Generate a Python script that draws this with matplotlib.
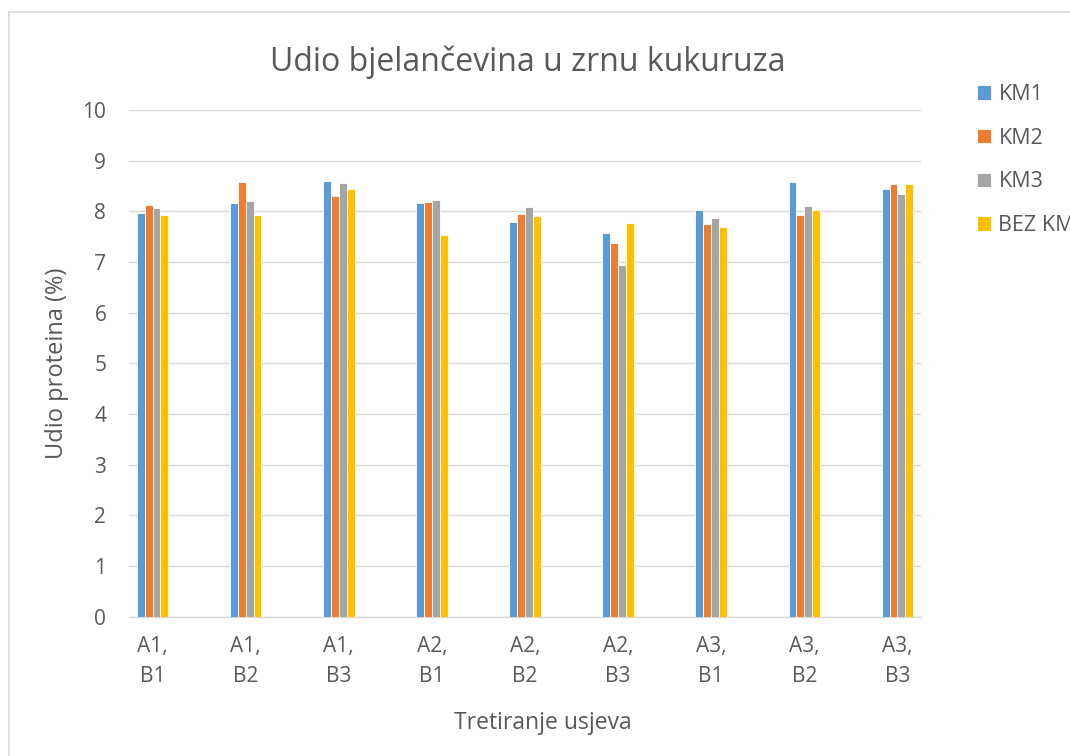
import numpy as np
import matplotlib
matplotlib.use("Agg")
import matplotlib.pyplot as plt
from matplotlib.lines import Line2D

plt.rcParams['font.family'] = ['Open Sans', 'DejaVu Sans']

# data
categories = ["A1,\nB1", "A1,\nB2", "A1,\nB3", "A2,\nB1", "A2,\nB2",
              "A2,\nB3", "A3,\nB1", "A3,\nB2", "A3,\nB3"]
km1 = [7.97, 8.17, 8.60, 8.17, 7.78, 7.57, 8.03, 8.57, 8.45]
km2 = [8.13, 8.57, 8.30, 8.18, 7.95, 7.38, 7.75, 7.93, 8.53]
km3 = [8.06, 8.20, 8.55, 8.22, 8.08, 6.94, 7.86, 8.10, 8.35]
bez_km = [7.93, 7.93, 8.45, 7.53, 7.90, 7.77, 7.69, 8.02, 8.53]
series_names = ["KM1", "KM2", "KM3", "BEZ KM"]
colors = ["#5B9BD5", "#ED7D31", "#A5A5A5", "#FFC000"]
text_col = "#595959"
grid_col = "#D9D9D9"

fig = plt.figure(figsize=(10.7, 7.56), dpi=100)
ax = fig.add_axes([0.1208, 0.1843, 0.7397, 0.6702])

x = np.arange(len(categories))
w = 0.085
for i, (vals, name, c) in enumerate(zip([km1, km2, km3, bez_km], series_names, colors)):
    ax.bar(x + (i - 1.5) * w, vals, width=w, color=c, edgecolor="white",
           linewidth=0.6, label=name, zorder=3)

ax.set_xlim(-0.25, 8.25)
ax.set_ylim(0, 10)
ax.set_yticks(range(0, 11))
ax.set_xticks(x)
ax.set_xticklabels(categories, linespacing=1.55)
ax.grid(axis="y", color=grid_col, linewidth=1.0, zorder=0)
for s in ["top", "right", "left"]:
    ax.spines[s].set_visible(False)
ax.spines["bottom"].set_color(grid_col)
ax.spines["bottom"].set_linewidth(1.0)
ax.tick_params(axis="both", length=0, labelsize=15, colors=text_col)
ax.tick_params(axis="x", pad=14)
ax.tick_params(axis="y", pad=16.5)

ax.set_ylabel("Udio proteina (%)", fontsize=17, color=text_col, labelpad=10)
fig.text(0.4935, 0.918, "Udio bjelančevina u zrnu kukuruza", ha="center",
         va="center", fontsize=23, color=text_col)
fig.text(0.5075, 0.044, "Tretiranje usjeva", ha="center", va="center",
         fontsize=16.5, color=text_col)

fig.legend(loc="upper left", bbox_to_anchor=(0.905, 0.9), frameon=False,
           fontsize=15.5, handlelength=0.65, handleheight=0.65, handletextpad=0.35,
           labelspacing=1.05, labelcolor=text_col, borderaxespad=0)

# light chart-area frame (only left and top edges visible)
fig.add_artist(Line2D([8.5 / 1070, 8.5 / 1070], [0, 1 - 11.5 / 756],
                      color=grid_col, linewidth=1.2))
fig.add_artist(Line2D([8.5 / 1070, 1], [1 - 11.5 / 756, 1 - 11.5 / 756],
                      color=grid_col, linewidth=1.2))

fig.savefig("out.png", dpi=100)
